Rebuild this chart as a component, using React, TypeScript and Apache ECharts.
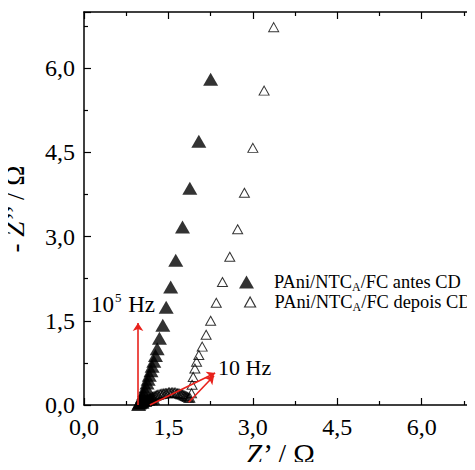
import React, { useEffect, useRef } from "react";
import * as echarts from "echarts";

const seriesNames = ["PAni/NTC{sub|A}/FC antes CD", "PAni/NTC{sub|A}/FC depois CD"];

// Filled triangles: antes CD  [Z', -Z'']
const antesX = [2.25, 2.04, 1.88, 1.75, 1.63, 1.54, 1.46, 1.40, 1.34, 1.30, 1.27, 1.24, 1.21, 1.19, 1.16, 1.14, 1.12, 1.10, 1.08, 1.06, 1.04, 1.02, 1.00, 0.98, 0.97, 1.03, 1.08, 1.13, 1.18, 1.22];
const antesY = [5.80, 4.70, 3.86, 3.17, 2.58, 2.10, 1.74, 1.42, 1.19, 1.00, 0.88, 0.78, 0.69, 0.61, 0.53, 0.46, 0.39, 0.32, 0.26, 0.20, 0.15, 0.10, 0.06, 0.03, 0.01, 0.05, 0.08, 0.10, 0.11, 0.12];

// Open triangles: depois CD
const depoisX = [3.37, 3.20, 3.00, 2.85, 2.73, 2.59, 2.46, 2.35, 2.25, 2.17, 2.10, 2.04, 2.00, 1.97, 1.94, 1.92, 1.91, 1.88, 1.86, 1.84, 1.82, 1.80, 1.78, 1.76, 1.74, 1.72, 1.70, 1.67, 1.65, 1.62, 1.60, 1.57, 1.55, 1.52, 1.50, 1.47, 1.45, 1.42, 1.40, 1.37, 1.35, 1.32, 1.30, 1.28, 1.26, 1.24, 1.22, 1.20, 1.18, 1.16, 1.14, 1.12, 1.10, 1.08, 1.06, 1.05, 1.03, 1.02];
const depoisY = [6.73, 5.60, 4.58, 3.78, 3.13, 2.64, 2.19, 1.82, 1.50, 1.25, 1.04, 0.89, 0.77, 0.65, 0.50, 0.36, 0.21, 0.13, 0.13, 0.14, 0.15, 0.16, 0.17, 0.18, 0.19, 0.19, 0.20, 0.21, 0.21, 0.22, 0.22, 0.22, 0.22, 0.22, 0.22, 0.21, 0.21, 0.21, 0.20, 0.20, 0.19, 0.18, 0.18, 0.17, 0.16, 0.15, 0.14, 0.13, 0.12, 0.11, 0.10, 0.08, 0.07, 0.06, 0.05, 0.04, 0.03, 0.02];

// Frequency arrows (data coordinates): [x1, y1, x2, y2]
const arrowHigh = [0.96, 0.0, 0.96, 1.46];
const arrowLow1 = [1.17, 0.0, 2.33, 0.57];
const arrowLow2 = [1.86, 0.05, 2.31, 0.52];

const FONT = "'Liberation Serif', 'Times New Roman', serif";
const RED = "#e8221c";

const fmt = (v: number) => v.toFixed(1).replace(".", ",");

export default function App() {
  const ref = useRef<HTMLDivElement>(null);
  useEffect(() => {
    if (!ref.current) return;
    const chart = echarts.init(ref.current, undefined, { renderer: "svg" });
    const antes = antesX.map((x, i) => [x, antesY[i]]);
    const depois = depoisX.map((x, i) => [x, depoisY[i]]);
    const axisCommon = {
      min: 0,
      max: 7,
      interval: 1.5,
      axisLine: { show: true, onZero: false, lineStyle: { color: "#000", width: 1.5 } },
      axisTick: { show: true, inside: true, length: 7, lineStyle: { color: "#000", width: 1.2 } },
      minorTick: { show: true, splitNumber: 2, length: 4, lineStyle: { color: "#000", width: 1.2 } },
      splitLine: { show: false },
    };
    const arrow = (a: number[]) => [{ coord: [a[0], a[1]] }, { coord: [a[2], a[3]] }];
    const legendText = (pad: number) => ({
      fontFamily: FONT,
      fontSize: 18.4,
      color: "#000",
      padding: [0, 0, 0, pad],
      rich: { sub: { fontFamily: FONT, fontSize: 12, color: "#000", padding: [10, 0, 0, 0] } },
    });
    chart.setOption({
      animation: false,
      backgroundColor: "#fff",
      grid: { left: 84, right: -3, top: 12, bottom: 65, outerBoundsMode: "none", containLabel: false },
      xAxis: [
        {
          ...axisCommon,
          type: "value",
          position: "bottom",
          name: "{i|Z}’ / Ω",
          nameLocation: "middle",
          nameGap: 34,
          nameMoveOverlap: false,
          nameTextStyle: {
            fontFamily: FONT,
            fontSize: 29,
            color: "#000",
            rich: { i: { fontFamily: FONT, fontSize: 29, fontStyle: "italic", color: "#000" } },
          },
          axisLabel: {
            formatter: fmt,
            showMaxLabel: false,
            margin: 10,
            fontFamily: FONT,
            fontSize: 24,
            color: "#000",
          },
        },
        {
          ...axisCommon,
          type: "value",
          position: "top",
          axisLabel: { show: false },
        },
      ],
      yAxis: [
        {
          ...axisCommon,
          type: "value",
          position: "left",
          name: "- {i|Z}’’ / Ω",
          nameLocation: "middle",
          nameGap: 56,
          nameRotate: 90,
          nameMoveOverlap: false,
          nameTextStyle: {
            fontFamily: FONT,
            fontSize: 27,
            color: "#000",
            rich: { i: { fontFamily: FONT, fontSize: 27, fontStyle: "italic", color: "#000" } },
          },
          axisLabel: {
            formatter: fmt,
            showMaxLabel: false,
            margin: 9,
            fontFamily: FONT,
            fontSize: 24,
            color: "#000",
          },
        },
        {
          ...axisCommon,
          type: "value",
          position: "right",
          axisLabel: { show: false },
        },
      ],
      legend: [
        {
          orient: "vertical",
          left: 234,
          top: 268,
          itemWidth: 15,
          itemHeight: 13,
          selectedMode: false,
          textStyle: legendText(15),
          data: [{ name: seriesNames[0] }],
        },
        {
          orient: "vertical",
          left: 239,
          top: 288,
          itemWidth: 11,
          itemHeight: 10,
          selectedMode: false,
          textStyle: legendText(14),
          data: [{ name: seriesNames[1], itemStyle: { color: "#fff", borderColor: "#000", borderWidth: 1.2 } }],
        },
      ],
      series: [
        {
          name: seriesNames[0],
          type: "scatter",
          data: antes,
          symbol: "triangle",
          symbolSize: [15, 13],
          itemStyle: { color: "#000" },
          silent: true,
          z: 3,
        },
        {
          name: seriesNames[1],
          type: "scatter",
          data: depois,
          symbol: "triangle",
          symbolSize: [10, 9],
          itemStyle: { color: "rgba(255,255,255,0)", borderColor: "#000", borderWidth: 1 },
          silent: true,
          z: 4,
          markLine: {
            silent: true,
            symbol: ["none", "arrow"],
            symbolSize: 8,
            label: { show: false },
            lineStyle: { color: RED, width: 1.6, type: "solid" },
            data: [arrow(arrowHigh), arrow(arrowLow1), arrow(arrowLow2)],
          },
        },
      ],
      graphic: [
        {
          type: "text",
          style: {
            x: 91,
            y: 317,
            verticalAlign: "bottom",
            text: "10{sup|5} Hz",
            fontFamily: FONT,
            fontSize: 23,
            fill: "#000",
            rich: { sup: { fontFamily: FONT, fontSize: 13, fill: "#000", padding: [0, 1, 13, 1] } },
          },
        },
        {
          type: "text",
          style: {
            x: 218,
            y: 378,
            verticalAlign: "bottom",
            text: "10 Hz",
            fontFamily: FONT,
            fontSize: 22,
            fill: "#000",
          },
        },
      ],
    });
    return () => chart.dispose();
  }, []);
  return <div ref={ref} style={{ width: 475, height: 470, margin: -8 }} />;
}
